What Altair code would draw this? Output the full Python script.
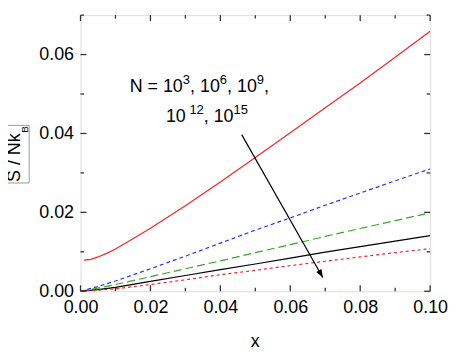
import math
import altair as alt
import pandas as pd

# ---------------- data ----------------
x_grid = [0.0, 0.005, 0.01, 0.02, 0.03, 0.04, 0.05, 0.06, 0.07, 0.08, 0.09, 0.1]

red_x = [0.001, 0.003, 0.005, 0.0075, 0.01, 0.015, 0.02, 0.025, 0.03, 0.04,
         0.05, 0.06, 0.07, 0.08, 0.09, 0.1]
red_y = [0.0079, 0.0081, 0.0087, 0.0096, 0.0107, 0.0133, 0.0160, 0.0188, 0.0217,
         0.0277, 0.0339, 0.0402, 0.0465, 0.0528, 0.0593, 0.0659]          # N = 1e3

blue_y = [0.0, 0.0012, 0.0026, 0.0057, 0.0089, 0.0122, 0.0155, 0.0186, 0.0218,
          0.0249, 0.0280, 0.0310]                                          # N = 1e6
green_y = [0.0, 0.0008, 0.0017, 0.0037, 0.0057, 0.0077, 0.0098, 0.0118, 0.0139,
           0.0159, 0.0179, 0.0199]                                         # N = 1e9
black_y = [0.0, 0.0004, 0.0010, 0.0025, 0.0040, 0.0055, 0.0069, 0.0084, 0.0099,
           0.0113, 0.0127, 0.0141]                                         # N = 1e12
red2_y = [0.0, 0.0003, 0.0006, 0.0017, 0.0029, 0.0042, 0.0053, 0.0065, 0.0076,
          0.0087, 0.0098, 0.0108]                                          # N = 1e15

x_tick_values = [0.0, 0.01, 0.02, 0.03, 0.04, 0.05, 0.06, 0.07, 0.08, 0.09, 0.1]
y_tick_values = [0.0, 0.01, 0.02, 0.03, 0.04, 0.05, 0.06, 0.07]
x_label_values = [0.0, 0.02, 0.04, 0.06, 0.08, 0.1]
y_label_values = [0.0, 0.02, 0.04, 0.06]

arrow_x = [0.0461, 0.0693]
arrow_y = [0.0397, 0.0035]

# ---------------- layout ----------------
W, H = 352, 278
X_MAX, Y_MAX = 0.1, 0.07
FONT = "Liberation Sans"
FRAME = "#333333"

xs = alt.Scale(domain=[0, X_MAX], nice=False, zero=False)
ys = alt.Scale(domain=[0, Y_MAX], nice=False, zero=False)

x_axis = alt.Axis(values=x_label_values, format=".2f", title=None, grid=False,
                  domain=False, ticks=False, tickSize=0, labelFlush=False,
                  labelOverlap=False, labelBound=False, labelPadding=7,
                  labelFont=FONT, labelFontSize=18, labelColor="black")
y_axis = alt.Axis(values=y_label_values, format=".2f", title=None, grid=False,
                  domain=False, ticks=False, tickSize=0, labelFlush=False,
                  labelOverlap=False, labelBound=False, labelPadding=7,
                  labelFont=FONT, labelFontSize=18, labelColor="black")


def X(field):
    return alt.X(field, scale=xs, axis=x_axis)


def Y(field):
    return alt.Y(field, scale=ys, axis=y_axis)


def series(xv, yv, color, dash=None, width=1.2):
    df = pd.DataFrame({"x": xv, "y": yv})
    kw = dict(color=color, strokeWidth=width, clip=True)
    if dash:
        kw["strokeDash"] = dash
    return alt.Chart(df).mark_line(**kw).encode(x=X("x:Q"), y=Y("y:Q"))


layers = [
    series(red_x, red_y, "#ff2222"),
    series(x_grid, blue_y, "#2233ff", dash=[4, 3]),
    series(x_grid, green_y, "#33aa22", dash=[8, 4]),
    series(x_grid, black_y, "#000000"),
    series(x_grid, red2_y, "#ff2222", dash=[3, 3]),
]

# ---------------- inward ticks on all four sides ----------------
def is_major(v, step):
    return abs(round(v / step) * step - v) < 1e-9


xt = pd.DataFrame({"v": x_tick_values,
                   "len": [6 if is_major(v, 0.02) else 3.5 for v in x_tick_values]})
yt = pd.DataFrame({"v": y_tick_values,
                   "len": [6 if is_major(v, 0.02) else 3.5 for v in y_tick_values]})

rule_kw = dict(color=FRAME, strokeWidth=1.3)
for side in ["bottom", "top"]:
    for ln in [6, 3.5]:
        sub = xt[xt["len"] == ln]
        y0 = H if side == "bottom" else 0
        y1 = H - ln if side == "bottom" else ln
        layers.append(alt.Chart(sub).mark_rule(**rule_kw).encode(
            x=X("v:Q"), y=alt.value(y0), y2=alt.value(y1)))
for side in ["left", "right"]:
    for ln in [6, 3.5]:
        sub = yt[yt["len"] == ln]
        x0 = 0 if side == "left" else W
        x1 = ln if side == "left" else W - ln
        layers.append(alt.Chart(sub).mark_rule(**rule_kw).encode(
            y=Y("v:Q"), x=alt.value(x0), x2=alt.value(x1)))

# ---------------- arrow ----------------
arrow_df = pd.DataFrame({"x": [arrow_x[0]], "y": [arrow_y[0]],
                         "x2": [arrow_x[1]], "y2": [arrow_y[1]]})
layers.append(alt.Chart(arrow_df).mark_rule(color="black", strokeWidth=1.2).encode(
    x=X("x:Q"), y=Y("y:Q"), x2="x2:Q", y2="y2:Q"))
px = [v / X_MAX * W for v in arrow_x]
py = [H - v / Y_MAX * H for v in arrow_y]
ang = math.degrees(math.atan2(-(px[1] - px[0]), py[1] - py[0])) % 360
head_df = pd.DataFrame({"x": [arrow_x[1]], "y": [arrow_y[1]]})
layers.append(alt.Chart(head_df).mark_point(
    shape="M0,0L-0.38,-1L0.38,-1Z", size=256, angle=ang, filled=True,
    color="black", opacity=1, strokeWidth=0).encode(x=X("x:Q"), y=Y("y:Q")))

# ---------------- text ----------------
one = pd.DataFrame({"k": [0]})


def txt(text, x, y, size, angle=0, align="left", baseline="alphabetic"):
    kw = dict(text=text, font=FONT, fontSize=size, align=align,
              baseline=baseline, color="black")
    if angle:
        kw["angle"] = angle
    return alt.Chart(one).mark_text(**kw).encode(x=alt.value(x), y=alt.value(y))


ADV = {"N": 0.722, " ": 0.278, "=": 0.584, ",": 0.278}


def width(s, size):
    return sum(ADV.get(c, 0.556) for c in s) * size


def rich_line(parts, x0, base, big=18, small=13, rise=8):
    out = []
    x = x0
    for s, sup in parts:
        if sup:
            out.append(txt(s, x, base - rise, small))
            x += width(s, small)
        else:
            out.append(txt(s, x, base, big))
            x += width(s, big)
    return out


layers += rich_line([("N = 10", 0), ("3", 1), (", 10", 0), ("6", 1), (", 10", 0),
                     ("9", 1), (",", 0)], 49.5, 77)
layers += rich_line([("10", 0), (" ", 1), ("12", 1), (", 10", 0), ("15", 1)], 86, 108)

# axis titles
layers.append(alt.Chart(one).mark_rect(fillOpacity=0, stroke="#9a9a9a",
                                       strokeWidth=1).encode(
    x=alt.value(-79.3), x2=alt.value(-51.7), y=alt.value(111), y2=alt.value(169)))
layers.append(txt("S / Nk", -60.5, 168, 18, angle=270))
layers.append(txt("B", -52.5, 118.5, 10, angle=270))
layers.append(txt("x", 176, 334, 18, align="center"))

chart = alt.layer(*layers).properties(
    width=W, height=H,
    autosize=alt.AutoSizeParams(type="none"),
    padding={"left": 73, "top": 6, "right": 19, "bottom": 62},
).configure_view(stroke=FRAME, strokeWidth=1.5).configure(background="white")

chart.save("out.html", embed_options={"renderer": "svg", "actions": False})
